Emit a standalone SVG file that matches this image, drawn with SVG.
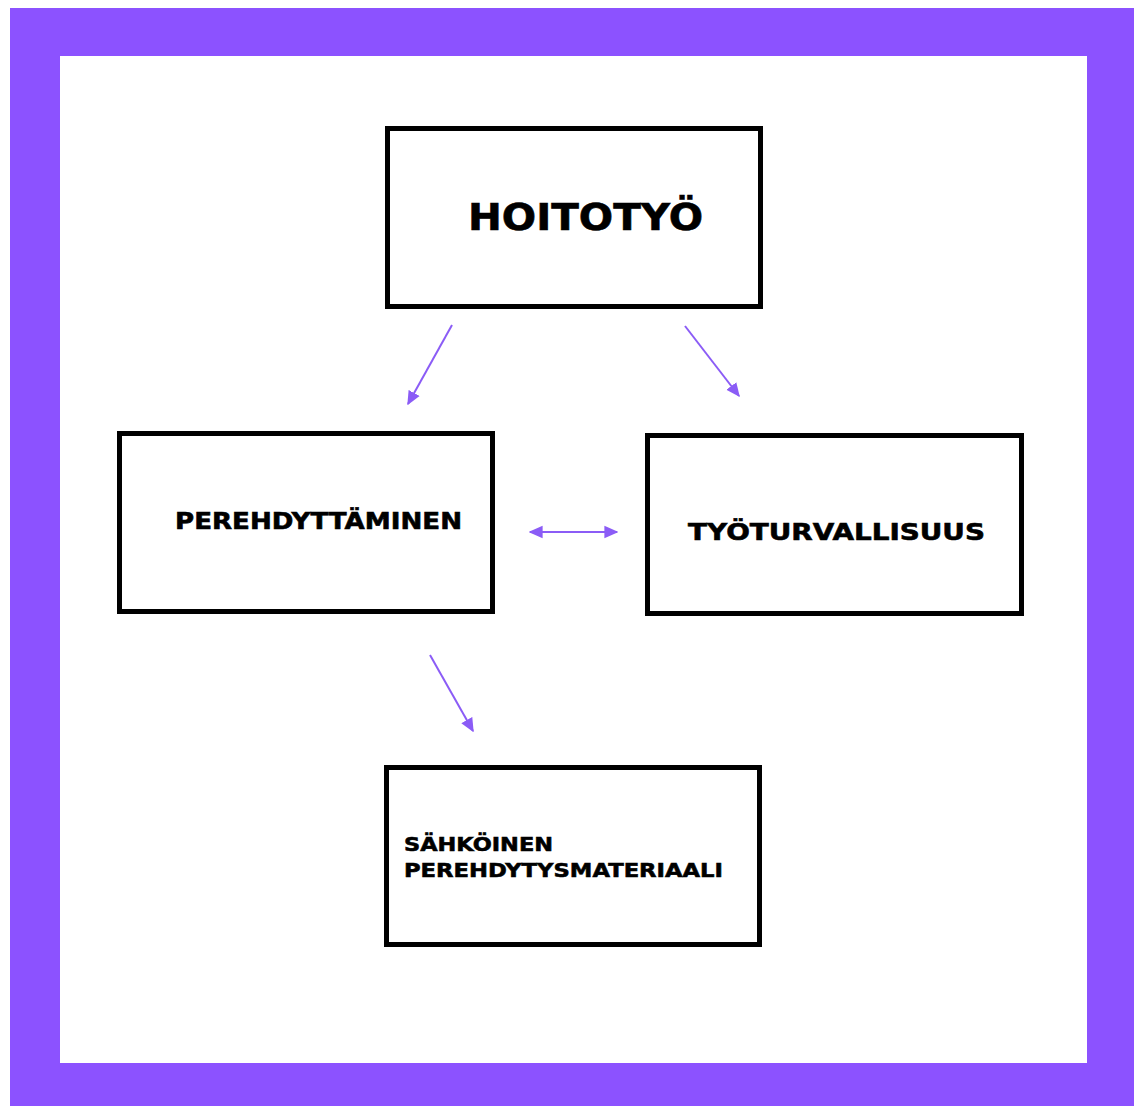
<svg xmlns="http://www.w3.org/2000/svg" width="1134" height="1106" viewBox="0 0 1134 1106">
<style>
.box{fill:#ffffff;stroke:#000000;stroke-width:5}
.lbl{font-family:"DejaVu Sans","Liberation Sans",sans-serif;font-weight:bold;fill:#000000;stroke:#000000;stroke-width:0.6}
.conn{stroke:#8B5CF6;stroke-width:2;fill:none}
</style>
<defs>
<marker id="ah" viewBox="0 0 10 10" refX="9" refY="5" markerWidth="7" markerHeight="7" markerUnits="strokeWidth" orient="auto-start-reverse">
<path d="M0,0.5 L10,5 L0,9.5 Z" fill="#8B5CF6"/>
</marker>
</defs>
<rect x="0" y="0" width="1134" height="1106" fill="#ffffff"/>
<g id="frame">
<path d="M10,8 H1134 V1106 H10 Z M60,56 V1063 H1087 V56 Z" fill="#8C52FF" fill-rule="evenodd"/>
</g>
<g id="connectors">
<line class="conn" x1="452" y1="325" x2="408" y2="404" marker-end="url(#ah)"/>
<line class="conn" x1="685" y1="326" x2="739" y2="396" marker-end="url(#ah)"/>
<line class="conn" x1="530" y1="532" x2="617" y2="532" marker-start="url(#ah)" marker-end="url(#ah)"/>
<line class="conn" x1="430" y1="655" x2="473" y2="731" marker-end="url(#ah)"/>
</g>
<g id="node-hoitotyo">
<rect class="box" x="387.5" y="128.5" width="373" height="178"/>
<text class="lbl" x="468" y="230" font-size="37" textLength="235" lengthAdjust="spacingAndGlyphs">HOITOTYÖ</text>
</g>
<g id="node-perehdyttaminen">
<rect class="box" x="119.5" y="433.5" width="373" height="178"/>
<text class="lbl" x="175" y="529" font-size="23" textLength="287" lengthAdjust="spacingAndGlyphs">PEREHDYTTÄMINEN</text>
</g>
<g id="node-tyoturvallisuus">
<rect class="box" x="647.5" y="435.5" width="374" height="178"/>
<text class="lbl" x="688" y="540" font-size="23" textLength="297" lengthAdjust="spacingAndGlyphs">TYÖTURVALLISUUS</text>
</g>
<g id="node-materiaali">
<rect class="box" x="386.5" y="767.5" width="373" height="177"/>
<text class="lbl" x="404" y="851" font-size="20" textLength="149" lengthAdjust="spacingAndGlyphs">SÄHKÖINEN</text>
<text class="lbl" x="404" y="877" font-size="20" textLength="319" lengthAdjust="spacingAndGlyphs">PEREHDYTYSMATERIAALI</text>
</g>
</svg>
